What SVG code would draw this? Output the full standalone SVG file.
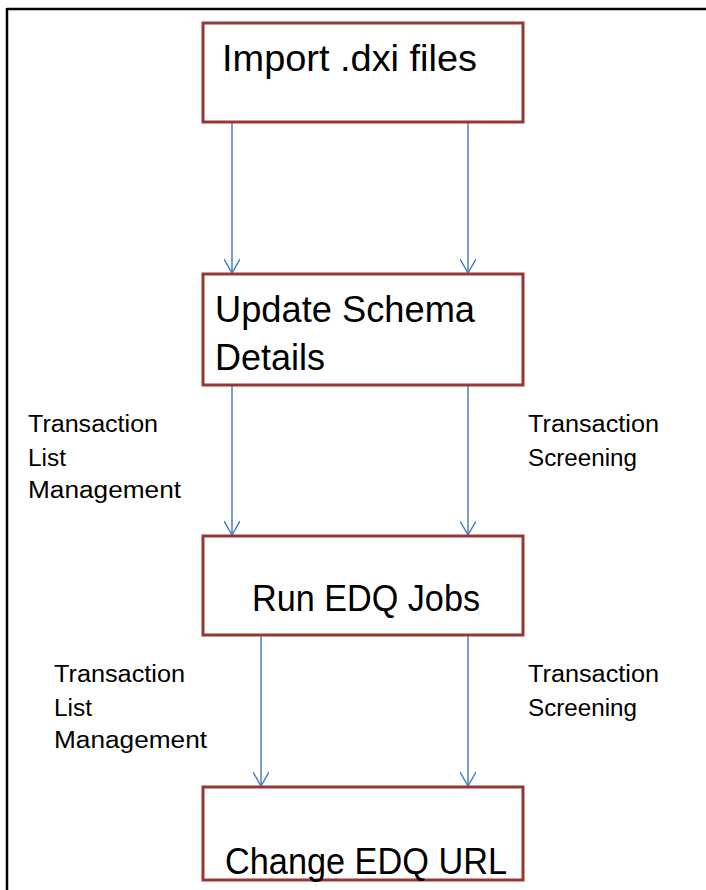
<svg xmlns="http://www.w3.org/2000/svg" width="706" height="890" viewBox="0 0 706 890">
  <style>
    .box { fill: #ffffff; stroke: #953735; stroke-width: 3; }
    .big { font-family: "Liberation Sans", Arial, sans-serif; font-size: 37px; fill: #000000; }
    .lbl { font-family: "Liberation Sans", Arial, sans-serif; font-size: 23px; fill: #000000; }
    .conn { stroke: #4A7EBB; stroke-width: 1.5; fill: none; marker-end: url(#arrow); }
    .frame { stroke: #000000; fill: none; }
  </style>
  <defs>
    <marker id="arrow" markerWidth="18" markerHeight="16" refX="15" refY="8" orient="auto" markerUnits="userSpaceOnUse">
      <path d="M1,0 L15,8 L1,16" fill="none" stroke="#4A7EBB" stroke-width="1.5"/>
    </marker>
  </defs>
  <rect x="0" y="0" width="706" height="890" fill="#ffffff"/>
  <g id="frame">
    <line class="frame" x1="7" y1="9" x2="706" y2="9" stroke-width="2.5"/>
    <line class="frame" x1="7" y1="8" x2="7" y2="890" stroke-width="2.5"/>
  </g>
  <g id="connectors">
    <line class="conn" x1="232" y1="123" x2="232" y2="273"/>
    <line class="conn" x1="468" y1="123" x2="468" y2="273"/>
    <line class="conn" x1="232" y1="386" x2="232" y2="535"/>
    <line class="conn" x1="468" y1="386" x2="468" y2="535"/>
    <line class="conn" x1="261" y1="636" x2="261" y2="786"/>
    <line class="conn" x1="468" y1="636" x2="468" y2="786"/>
    <text class="lbl" x="28" y="432" textLength="130" lengthAdjust="spacingAndGlyphs">Transaction</text>
    <text class="lbl" x="28" y="466" textLength="38" lengthAdjust="spacingAndGlyphs">List</text>
    <text class="lbl" x="28" y="498" textLength="153" lengthAdjust="spacingAndGlyphs">Management</text>
    <text class="lbl" x="528" y="432" textLength="131" lengthAdjust="spacingAndGlyphs">Transaction</text>
    <text class="lbl" x="528" y="466" textLength="109" lengthAdjust="spacingAndGlyphs">Screening</text>
    <text class="lbl" x="54" y="682" textLength="131" lengthAdjust="spacingAndGlyphs">Transaction</text>
    <text class="lbl" x="54" y="716" textLength="38" lengthAdjust="spacingAndGlyphs">List</text>
    <text class="lbl" x="54" y="748" textLength="153" lengthAdjust="spacingAndGlyphs">Management</text>
    <text class="lbl" x="528" y="682" textLength="131" lengthAdjust="spacingAndGlyphs">Transaction</text>
    <text class="lbl" x="528" y="716" textLength="109" lengthAdjust="spacingAndGlyphs">Screening</text>
  </g>
  <g id="import">
    <rect class="box" x="203" y="23" width="320" height="99"/>
    <text class="big" x="222" y="71" textLength="255" lengthAdjust="spacingAndGlyphs">Import .dxi files</text>
  </g>
  <g id="update">
    <rect class="box" x="203" y="274" width="320" height="111"/>
    <text class="big" x="215" y="322" textLength="260" lengthAdjust="spacingAndGlyphs">Update Schema</text>
    <text class="big" x="215" y="370" textLength="110" lengthAdjust="spacingAndGlyphs">Details</text>
  </g>
  <g id="run">
    <rect class="box" x="203" y="536" width="320" height="99"/>
    <text class="big" x="252" y="611" textLength="228" lengthAdjust="spacingAndGlyphs">Run EDQ Jobs</text>
  </g>
  <g id="change">
    <rect class="box" x="203" y="787" width="320" height="93"/>
    <text class="big" x="225" y="874" textLength="282" lengthAdjust="spacingAndGlyphs">Change EDQ URL</text>
  </g>
</svg>
